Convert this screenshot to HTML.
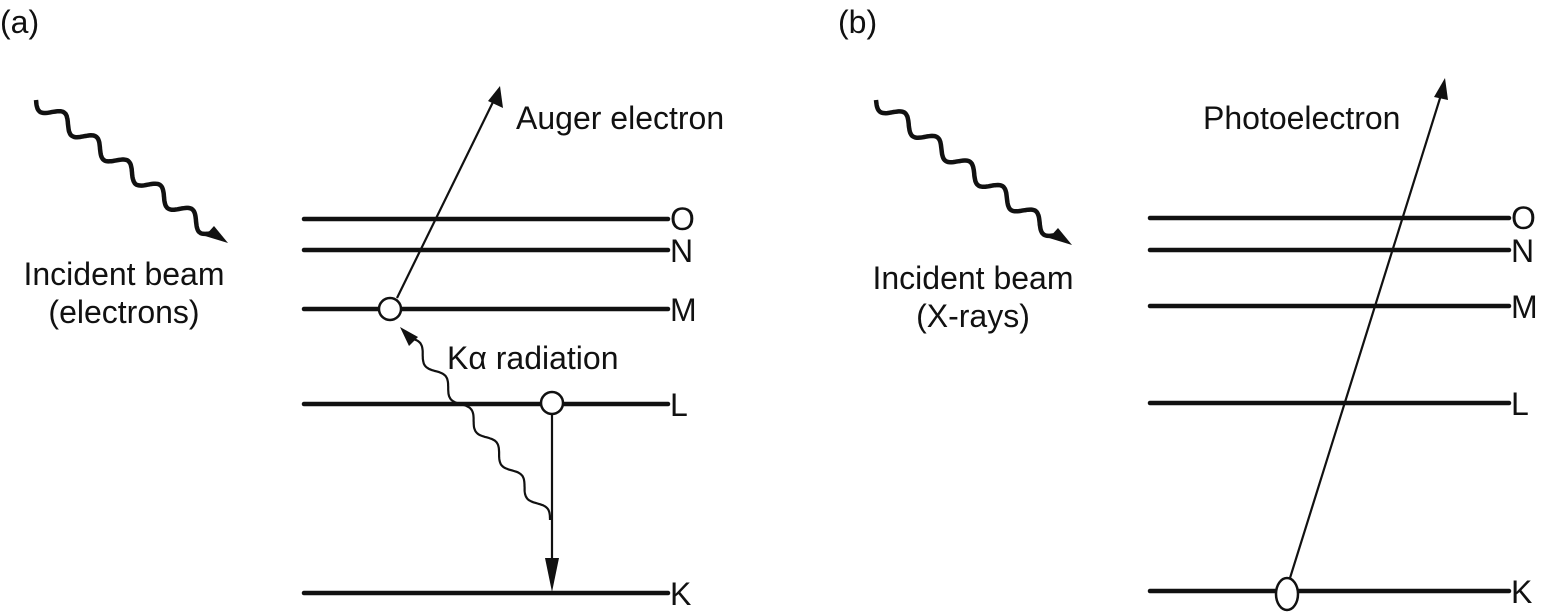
<!DOCTYPE html>
<html><head><meta charset="utf-8"><style>
html,body{margin:0;padding:0;background:#fff;}
svg{display:block;}
text{font-family:"Liberation Sans",sans-serif;fill:#111;}
</style></head><body>
<svg id="s" width="1546" height="613" viewBox="0 0 1546 613" xmlns="http://www.w3.org/2000/svg">
<g stroke="#111" stroke-width="4.5" stroke-linecap="round">
<line x1="304" y1="219" x2="668" y2="219"/>
<line x1="304" y1="250" x2="668" y2="250"/>
<line x1="304" y1="309" x2="668" y2="309"/>
<line x1="304" y1="404" x2="668" y2="404"/>
<line x1="304" y1="593" x2="668" y2="593"/>
<line x1="1150" y1="218" x2="1509" y2="218"/>
<line x1="1150" y1="250" x2="1509" y2="250"/>
<line x1="1150" y1="306" x2="1509" y2="306"/>
<line x1="1150" y1="403" x2="1509" y2="403"/>
<line x1="1150" y1="591" x2="1509" y2="591"/>
</g>
<g stroke="#111" stroke-width="2.2" fill="none">
<line x1="397" y1="298" x2="494" y2="100"/>
<line x1="552" y1="414" x2="552" y2="565"/>
<line x1="1290" y1="578" x2="1441" y2="95"/>
</g>
<g fill="#111">
<polygon points="500,86 503,108 488,101"/>
<polygon points="552,592 545,558 559,558"/>
<polygon points="1445,78 1448,100 1434,97"/>
<polygon points="400,327 418,337 409,346"/>
<polygon points="228,243 205,236 214,226"/>
<polygon points="1072,245 1049,238 1058,228"/>
</g>
<g id="waves" fill="none" stroke="#111"></g>
<g stroke="#111" stroke-width="2.5" fill="#fff">
<circle cx="390" cy="309" r="11"/>
<circle cx="552" cy="403" r="11"/>
<ellipse cx="1287" cy="594" rx="11" ry="16"/>
</g>
<g font-size="32">
<text x="0" y="33">(a)</text>
<text x="838" y="33">(b)</text>
<text x="516" y="129">Auger electron</text>
<text x="447" y="369">Kα radiation</text>
<text x="124" y="285" text-anchor="middle">Incident beam</text>
<text x="124" y="323" text-anchor="middle">(electrons)</text>
<text x="973" y="289" text-anchor="middle">Incident beam</text>
<text x="973" y="327" text-anchor="middle">(X-rays)</text>
<text x="1203" y="129">Photoelectron</text>
<text x="670" y="230">O</text>
<text x="670" y="262">N</text>
<text x="670" y="321">M</text>
<text x="670" y="416">L</text>
<text x="670" y="605">K</text>
<text x="1511" y="229">O</text>
<text x="1511" y="262">N</text>
<text x="1511" y="318">M</text>
<text x="1511" y="415">L</text>
<text x="1511" y="603">K</text>
</g>
</svg>
<script>
function wave(x1,y1,x2,y2,n,amp,w){
  var dx=x2-x1,dy=y2-y1,L=Math.hypot(dx,dy),ux=dx/L,uy=dy/L,px=-uy,py=ux,d="";
  for(var i=0;i<=200;i++){var t=i/200,s=Math.sin(t*n*2*Math.PI)*amp;
    var x=x1+dx*t+px*s,y=y1+dy*t+py*s;d+=(i?"L":"M")+x.toFixed(1)+","+y.toFixed(1);}
  var p=document.createElementNS("http://www.w3.org/2000/svg","path");
  p.setAttribute("d",d);p.setAttribute("stroke-width",w);
  document.getElementById("waves").appendChild(p);
}
wave(36,100,212,233,5.5,7,4.5);
wave(876,100,1056,235,5.5,7,4.5);
wave(550,520,410,338,5.5,5,2.2);
</script>
</body></html>
